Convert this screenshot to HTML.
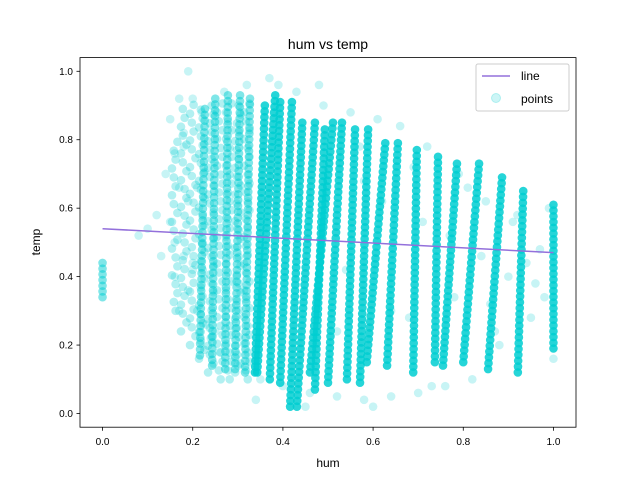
<!DOCTYPE html>
<html><head><meta charset="utf-8"><style>
body{margin:0;background:#fff;}
svg{display:block;font-family:"Liberation Sans",sans-serif;}
</style></head><body>
<svg id="chart" width="640" height="480">
<rect width="640" height="480" fill="#fff"/>
<g id="pts"></g>
<g id="ln"></g>
<rect x="80" y="57.6" width="496" height="369.6" fill="none" stroke="#000" stroke-width="0.8"/>
<g id="ax"></g>
<text x="328" y="49" font-size="14" text-anchor="middle">hum vs temp</text>
<text x="328" y="467" font-size="12" text-anchor="middle">hum</text>
<text x="40" y="242" font-size="12" text-anchor="middle" transform="rotate(-90 40 242)">temp</text>
<g>
<rect x="476" y="64" width="93" height="47" rx="2" fill="#fff" fill-opacity="0.8" stroke="#ccc"/>
<line x1="482" y1="76" x2="510" y2="76" stroke="#9370DB" stroke-width="1.5"/>
<text x="521" y="80" font-size="12">line</text>
<circle cx="496" cy="98" r="4.5" fill="#00CED1" fill-opacity="0.2" stroke="#00CED1" stroke-opacity="0.25"/>
<text x="521" y="103" font-size="12">points</text>
</g>
</svg>
<script>
const colHumTop=[1.0,0.933,0.886,0.835,0.786,0.744,0.697,0.655,0.627,0.589,0.560,0.531,0.511,0.493,0.471,0.443,0.420,0.394,0.383,0.360,0.327,0.305,0.278,0.250,0.227,0];
const colTempTop=[0.61,0.65,0.69,0.73,0.73,0.75,0.77,0.79,0.79,0.83,0.83,0.85,0.85,0.83,0.85,0.85,0.91,0.91,0.93,0.90,0.92,0.93,0.93,0.92,0.89,0.44];
const colHumBot=[1.0,0.921,0.855,0.800,0.755,0.737,0.689,0.631,0.586,0.571,0.542,0.500,0.460,0.471,0.431,0.416,0.394,0.371,0.343,0.338,0.316,0.294,0.272,0.243,0.216,0];
const colTempBot=[0.19,0.12,0.13,0.15,0.14,0.15,0.12,0.14,0.15,0.09,0.10,0.09,0.12,0.07,0.02,0.02,0.09,0.10,0.12,0.12,0.12,0.13,0.13,0.14,0.17,0.34];
const cloudHum=[0.16,0.18,0.20,0.22,0.24,0.26,0.28,0.30,0.32];
const cloudTempTop=[0.80,0.90,0.92,0.90,0.92,0.93,0.93,0.92,0.92];
const cloudTempBot=[0.30,0.24,0.20,0.16,0.12,0.10,0.10,0.12,0.10];
const faintHum=[0.19,0.17,0.20,0.15,0.18,0.16,0.14,0.12,0.10,0.08,0.19,0.21,0.17,0.15,0.22,0.18,0.20,0.16,0.13,0.19,0.21,0.23,0.17,0.24,0.26,0.30,0.35,0.40,0.46,0.52,0.58,0.64,0.70,0.76,0.82,0.88,0.95,0.98,1.0,0.97,0.91,0.85,0.79,0.72,0.66,0.61,0.55,0.49,0.43,0.37,0.32,0.27,0.22,0.18,0.16,0.20,0.25,0.34,0.45,0.60,0.73,0.87,0.96,0.99,0.92,0.81,0.69,0.57,0.48,0.39,0.90,0.84,0.78,0.71,0.64,0.58,0.52,0.94,0.86,0.77,0.68,0.62,0.54];
const faintTemp=[1.0,0.92,0.92,0.86,0.82,0.76,0.70,0.58,0.54,0.52,0.62,0.66,0.66,0.56,0.50,0.46,0.42,0.40,0.46,0.36,0.30,0.26,0.30,0.22,0.18,0.14,0.10,0.08,0.06,0.05,0.04,0.05,0.06,0.08,0.10,0.20,0.28,0.34,0.16,0.48,0.56,0.62,0.70,0.78,0.84,0.86,0.88,0.90,0.94,0.98,0.96,0.94,0.88,0.78,0.50,0.44,0.24,0.04,0.02,0.02,0.08,0.24,0.38,0.60,0.58,0.66,0.72,0.78,0.96,0.96,0.40,0.46,0.34,0.56,0.30,0.68,0.24,0.44,0.32,0.52,0.28,0.62,0.42];
const lineHum=[0,1];
const lineTemp=[0.54,0.47];
const xTicks=[0,0.2,0.4,0.6,0.8,1.0];
const yTicks=[0,0.2,0.4,0.6,0.8,1.0];
const NS='http://www.w3.org/2000/svg';
const X=v=>80+(v+0.05)/1.1*496;
const Y=v=>427.2-(v+0.04)/1.08*369.6;
const pts=document.getElementById('pts');
function dot(h,t,op){const c=document.createElementNS(NS,'circle');
c.setAttribute('cx',X(h));c.setAttribute('cy',Y(t));c.setAttribute('r',4.3);
c.setAttribute('fill','#00CED1');c.setAttribute('fill-opacity',op);


pts.appendChild(c);}
for(let i=0;i<faintHum.length;i++)dot(faintHum[i],faintTemp[i],0.22);
for(let i=0;i<cloudHum.length;i++){
  for(let t=cloudTempBot[i];t<=cloudTempTop[i]+1e-9;t+=0.026){
    dot(cloudHum[i]+((Math.round(t*100)%4)-1.5)*0.004,t,0.3);}
}
for(let i=0;i<colHumTop.length;i++){
  const n=Math.max(1,Math.round((colTempTop[i]-colTempBot[i])/0.017));
  for(let k=0;k<=n;k++){const f=k/n;
    dot(colHumBot[i]+(colHumTop[i]-colHumBot[i])*f,colTempBot[i]+(colTempTop[i]-colTempBot[i])*f,i>=20?0.5:0.85);}
}
const ln=document.createElementNS(NS,'polyline');
ln.setAttribute('points',lineHum.map((h,i)=>X(h)+','+Y(lineTemp[i])).join(' '));
ln.setAttribute('fill','none');ln.setAttribute('stroke','#9370DB');ln.setAttribute('stroke-width','1.5');


document.getElementById('ln').appendChild(ln);
const ax=document.getElementById('ax');
xTicks.forEach(v=>{const x=X(v);
 const l=document.createElementNS(NS,'line');l.setAttribute('x1',x);l.setAttribute('x2',x);l.setAttribute('y1',427.2);l.setAttribute('y2',430.7);l.setAttribute('stroke','#000');l.setAttribute('stroke-width','0.8');
 
 
 ax.appendChild(l);
 const t=document.createElementNS(NS,'text');t.setAttribute('x',x);t.setAttribute('y',445);t.setAttribute('font-size','10');t.setAttribute('text-anchor','middle');t.textContent=v.toFixed(1);
 
 
 ax.appendChild(t);});
yTicks.forEach(v=>{const y=Y(v);
 const l=document.createElementNS(NS,'line');l.setAttribute('x1',76.5);l.setAttribute('x2',80);l.setAttribute('y1',y);l.setAttribute('y2',y);l.setAttribute('stroke','#000');l.setAttribute('stroke-width','0.8');
 
 
 ax.appendChild(l);
 const t=document.createElementNS(NS,'text');t.setAttribute('x',73);t.setAttribute('y',y+3.5);t.setAttribute('font-size','10');t.setAttribute('text-anchor','end');t.textContent=v.toFixed(1);
 
 
 ax.appendChild(t);});
</script>
</body></html>
